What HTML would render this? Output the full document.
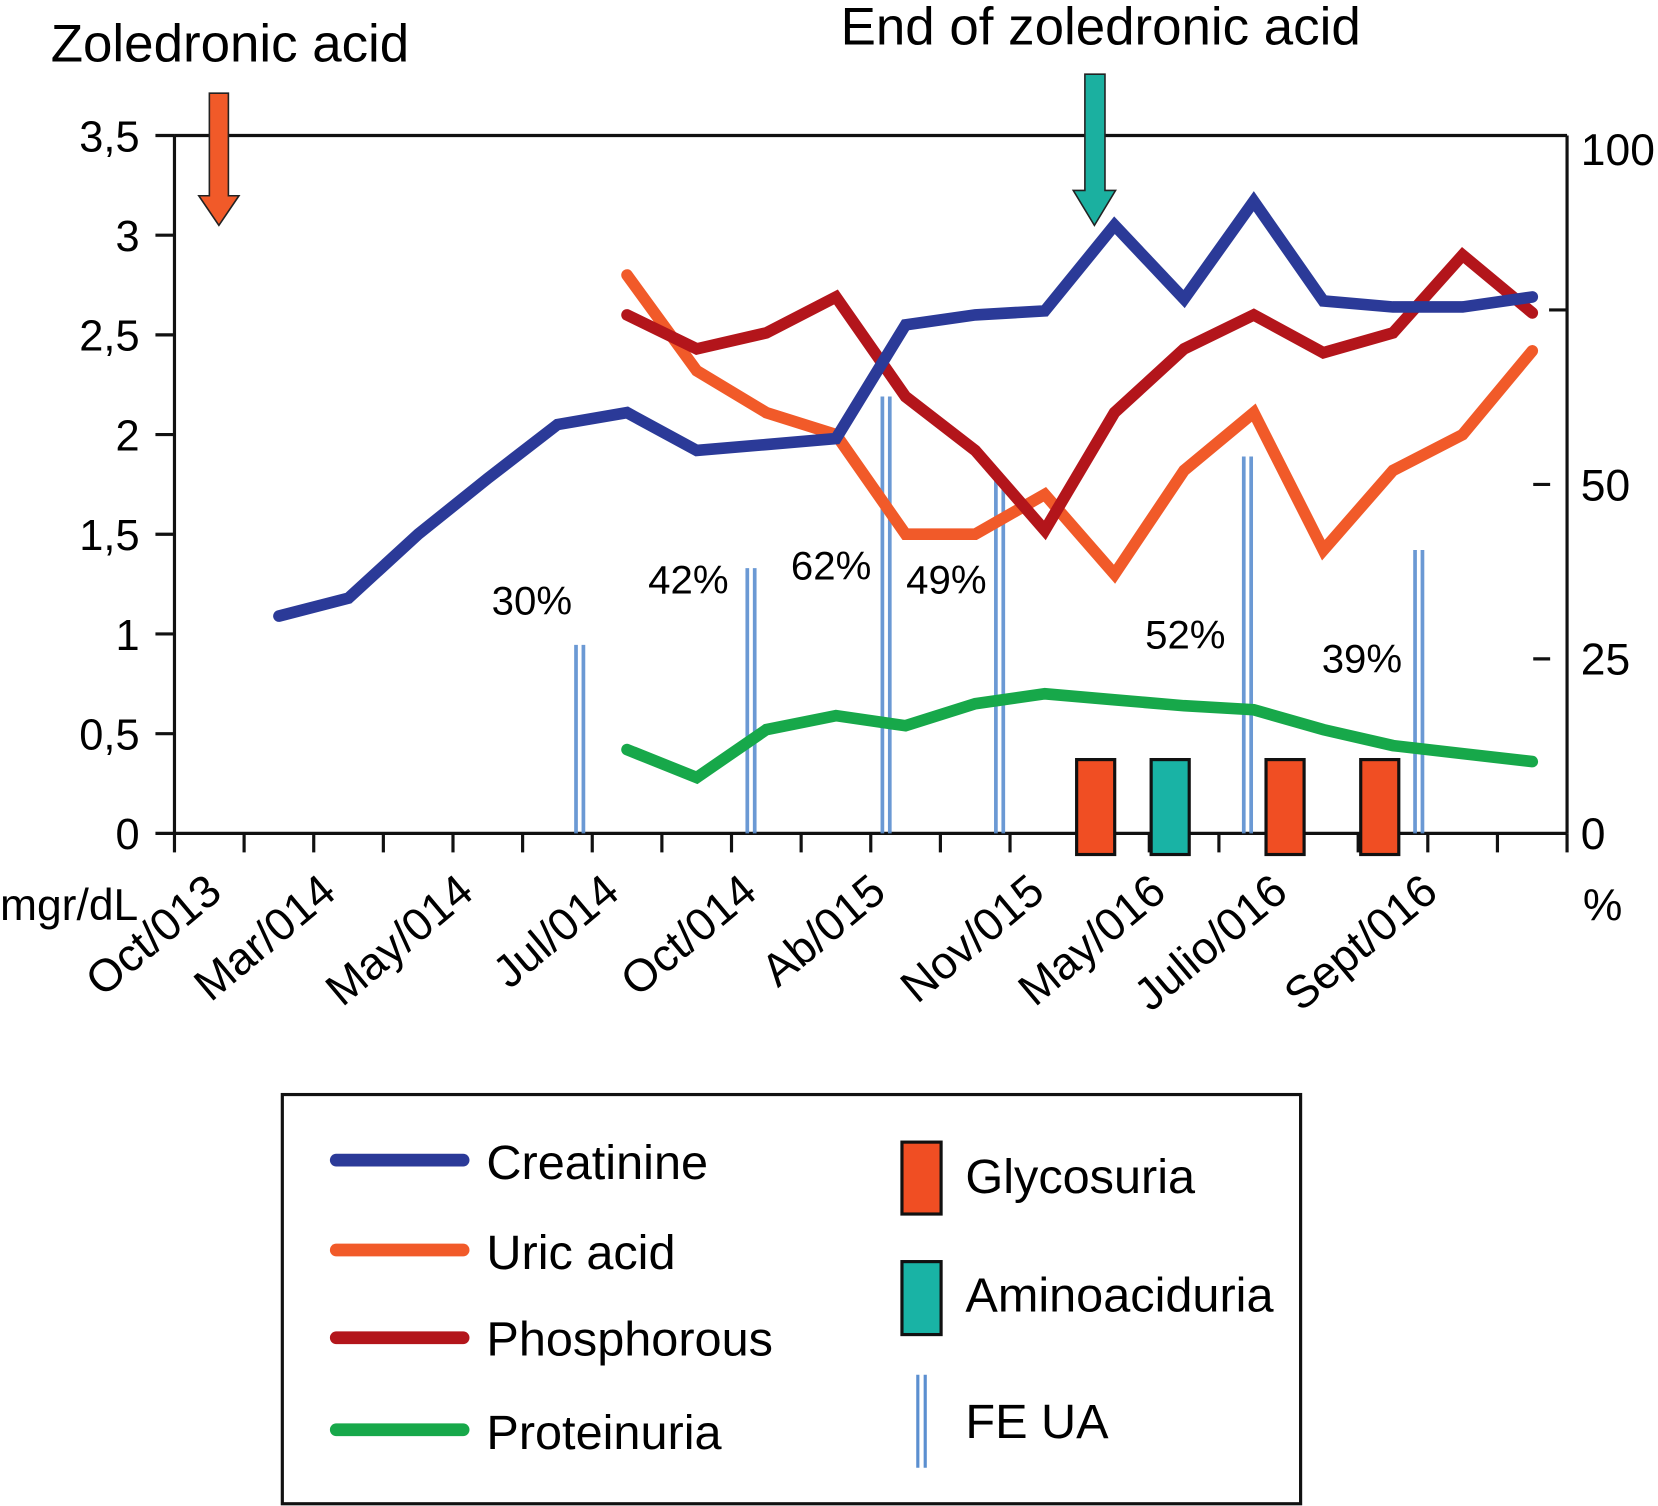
<!DOCTYPE html>
<html><head><meta charset="utf-8"><style>
html,body{margin:0;padding:0;background:#fff}
svg{display:block;font-family:"Liberation Sans",Arial,sans-serif}
</style></head><body>
<svg id="chart" width="1658" height="1506" viewBox="0 0 1568 1424">
<text x="48" y="58" font-size="50">Zoledronic acid</text>
<text x="795" y="42" font-size="50">End of zoledronic acid</text>
<g id="axes"></g>
<g id="marks"></g>
<polygon points="198,88 216,88 216,185 226,185 207,213 188,185 198,185" fill="#f15a29" stroke="#222" stroke-width="1.5"/>
<polygon points="1026,70 1045,70 1045,180 1055,180 1035,213 1015,180 1026,180" fill="#1bb0a0" stroke="#222" stroke-width="1.5"/>
<text x="0" y="870" font-size="42">mgr/dL</text>
<text x="1497" y="870" font-size="42">%</text>
<g>
<rect x="267" y="1035" width="963" height="387" fill="none" stroke="#111" stroke-width="3"/>
<line x1="318" y1="1097" x2="438" y2="1097" stroke="#2b3a98" stroke-width="12" stroke-linecap="round"/>
<text x="460" y="1115" font-size="46">Creatinine</text>
<line x1="318" y1="1182" x2="438" y2="1182" stroke="#f15a29" stroke-width="12" stroke-linecap="round"/>
<text x="460" y="1200" font-size="46">Uric acid</text>
<line x1="318" y1="1265" x2="438" y2="1265" stroke="#b3151b" stroke-width="12" stroke-linecap="round"/>
<text x="460" y="1282" font-size="46">Phosphorous</text>
<line x1="318" y1="1352" x2="438" y2="1352" stroke="#17a84a" stroke-width="12" stroke-linecap="round"/>
<text x="460" y="1370" font-size="46">Proteinuria</text>
<rect x="853" y="1080" width="37" height="68" fill="#f04e23" stroke="#111" stroke-width="3"/>
<text x="913" y="1128" font-size="46">Glycosuria</text>
<rect x="853" y="1193" width="37" height="69" fill="#19b3a5" stroke="#111" stroke-width="3"/>
<text x="913" y="1240" font-size="46">Aminoaciduria</text>
<line x1="868" y1="1300" x2="868" y2="1388" stroke="#5b8fd0" stroke-width="3"/>
<line x1="875" y1="1300" x2="875" y2="1388" stroke="#5b8fd0" stroke-width="3"/>
<text x="913" y="1360" font-size="46">FE UA</text>
</g>
</svg>
<script>
const xLabels = ["Oct/013","Mar/014","May/014","Jul/014","Oct/014","Ab/015","Nov/015","May/016","Julio/016","Sept/016"];
const yTicks = [0,0.5,1,1.5,2,2.5,3,3.5];
const yTickLabels = ["0","0,5","1","1,5","2","2,5","3","3,5"];
const rTicks = [0,25,50,75,100];
const rTickLabels = ["0","25","50","","100"];
const creatinine = [1.09,1.18,1.5,1.78,2.05,2.11,1.92,1.95,1.98,2.55,2.6,2.62,3.05,2.68,3.17,2.67,2.64,2.64,2.69];
const uricAcid = [null,null,null,null,null,2.8,2.32,2.11,2.0,1.5,1.5,1.7,1.3,1.82,2.11,1.42,1.82,2.0,2.42];
const phosphorous = [null,null,null,null,null,2.6,2.43,2.51,2.69,2.19,1.92,1.52,2.11,2.43,2.6,2.41,2.51,2.9,2.61];
const proteinuria = [null,null,null,null,null,0.42,0.28,0.52,0.59,0.54,0.65,0.7,0.67,0.64,0.62,0.52,0.44,0.4,0.36];
const feuaPos = [5.82,8.28,10.22,11.85,15.41,17.87];
const feuaValues = [27,38,62.6,51,54,40.6];
const feuaLabels = ["30%","42%","62%","49%","52%","39%"];
const tubularPos = [13.23,14.3,15.95,17.31];
const tubularType = ["glycosuria","aminoaciduria","glycosuria","glycosuria"];
const tubularHeight = [0.37,0.37,0.37,0.37];

const NS="http://www.w3.org/2000/svg";
const X0=165, X1=1482, Y0=788, Y1=128, STEP=65.85;
const xU = u => X0 + u*STEP;
const xI = i => xU(i+1.5);
const yL = v => Y0 - v*(Y0-Y1)/3.5;
const yR = p => Y0 - p*(Y0-Y1)/100;
const axes=document.getElementById('axes'), marks=document.getElementById('marks');
function mk(tag, attrs, parent){const e=document.createElementNS(NS,tag);for(const k in attrs)e.setAttribute(k,attrs[k]);parent.appendChild(e);return e;}

let e;
e=mk('line',{x1:X0,y1:Y1,x2:X1,y2:Y1,stroke:'#111','stroke-width':3},axes);


e=mk('line',{x1:X0,y1:Y1,x2:X0,y2:Y0,stroke:'#111','stroke-width':3},axes);


e=mk('line',{x1:X1,y1:Y1,x2:X1,y2:Y0,stroke:'#111','stroke-width':3},axes);


e=mk('line',{x1:X0,y1:Y0,x2:X1,y2:Y0,stroke:'#111','stroke-width':3},axes);


yTicks.forEach((v,i)=>{
  e=mk('line',{x1:147,y1:yL(v),x2:X0,y2:yL(v),stroke:'#111','stroke-width':3},axes);
  
  
  e=mk('text',{x:132,y:yL(v)+15,'font-size':41,'text-anchor':'end'},axes);
  e.textContent=yTickLabels[i];
  
  
});
rTicks.forEach((p,i)=>{
  if(p>0&&p<100){
    e=mk('line',{x1:p==75?X1-17:1450,y1:yR(p),x2:p==75?X1:1466,y2:yR(p),stroke:'#111','stroke-width':3},axes);
    
    
  }
  e=mk('text',{x:1495,y:(p==100?yR(p)+28:yR(p)+15),'font-size':42},axes);
  e.textContent=rTickLabels[i];
  
  
});
for(let k=0;k<=20;k++){
  e=mk('line',{x1:xU(k),y1:Y0,x2:xU(k),y2:Y0+18,stroke:'#111','stroke-width':3},axes);
  
  
}
const labelEnds=[212,320,450,588,718,840,990,1105,1220,1362];
xLabels.forEach((l,i)=>{
  e=mk('text',{x:labelEnds[i],y:847,'font-size':43,'text-anchor':'end',transform:`rotate(-40 ${labelEnds[i]} 847)`},axes);
  e.textContent=l;
  
  
});

feuaPos.forEach((u,i)=>{
  const g=mk('g',{},marks);
  
  
  [-3.5,3.5].forEach(d=>{mk('line',{x1:xU(u)+d,y1:yR(feuaValues[i]),x2:xU(u)+d,y2:Y0,stroke:'#5b8fd0','stroke-width':3.5,opacity:0.9},g);});
});
const lblX=[503,651,786,895,1121,1288], lblY=[581,561,548,561,613,636];
feuaLabels.forEach((l,i)=>{
  e=mk('text',{x:lblX[i],y:lblY[i],'font-size':38,'text-anchor':'middle'},marks);
  e.textContent=l;
  
  
});
tubularPos.forEach((u,i)=>{
  e=mk('rect',{x:xU(u)-18,y:yL(tubularHeight[i]),width:36,height:Y0+20-yL(tubularHeight[i]),fill:tubularType[i]=='glycosuria'?'#f04e23':'#19b3a5',stroke:'#111','stroke-width':3},marks);
  
  
});
function series(arr,color,name){
  const pts=[];arr.forEach((v,i)=>{if(v!==null)pts.push(xI(i).toFixed(1)+','+yL(v).toFixed(1));});
  e=mk('polyline',{points:pts.join(' '),fill:'none',stroke:color,'stroke-width':11,'stroke-linejoin':'miter','stroke-linecap':'round'},marks);
  
  
}
series(proteinuria,'#17a84a','proteinuria-line');
series(uricAcid,'#f15a29','uric-acid-line');
series(phosphorous,'#b3151b','phosphorous-line');
series(creatinine,'#2b3a98','creatinine-line');
</script>
</body></html>
